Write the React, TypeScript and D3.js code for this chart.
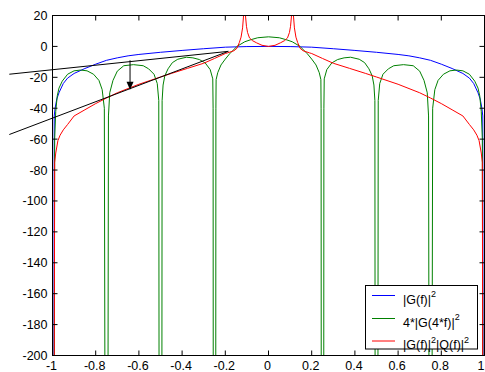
import React from 'react';
import * as d3 from 'd3';

const W = 485;
const H = 372;

// axis ticks
const xTicks = [-1, -0.8, -0.6, -0.4, -0.2, 0, 0.2, 0.4, 0.6, 0.8, 1];
const xTickLabels = ['-1', '-0.8', '-0.6', '-0.4', '-0.2', '0', '0.2', '0.4', '0.6', '0.8', '1'];
const yTicks = [20, 0, -20, -40, -60, -80, -100, -120, -140, -160, -180, -200];
const yTickLabels = ['20', '0', '-20', '-40', '-60', '-80', '-100', '-120', '-140', '-160', '-180', '-200'];

// |G(f)|^2 (symmetric, positive half)
const blueF = [0, 0.1, 0.2, 0.3, 0.4, 0.5, 0.6, 0.65, 0.7, 0.75, 0.8, 0.85, 0.9, 0.93, 0.95, 0.97, 0.98, 0.988, 0.992, 0.994];
const blueDb = [0, -0.1, -0.5, -1.5, -2.6, -3.8, -5.2, -6.1, -7.4, -9, -11.5, -14.3, -17.5, -20.5, -24, -30, -34, -40, -45, -300];

// |G(f)|^2|Q(f)|^2 (symmetric, positive half)
const redF = [0, 0.03, 0.055, 0.075, 0.088, 0.097, 0.102, 0.106, 0.111, 0.116, 0.12, 0.127, 0.135, 0.146, 0.16, 0.19, 0.2, 0.25, 0.3, 0.375, 0.45, 0.5, 0.6, 0.7, 0.75, 0.8, 0.85, 0.9, 0.93, 0.95, 0.965, 0.975, 0.985, 0.99, 0.993];
const redDb = [0, 0.7, 2.3, 3.8, 5.5, 9, 13, 19, 30, 19, 12, 6, 2.5, -1.2, -2.8, -4.2, -4.6, -7.8, -10.9, -14.2, -17.5, -19.8, -24.5, -30, -33.4, -37, -41, -45, -50.5, -54, -57.5, -61, -69, -75, -300];

// 4*|G(4*f)|^2 (symmetric, positive half)
const greenF = [
  0, 0.05, 0.085, 0.11, 0.146, 0.18, 0.2, 0.22, 0.235, 0.2425, 0.2435, 0.2445,
  0.2555, 0.2565, 0.258, 0.27, 0.293, 0.32, 0.35, 0.38, 0.42, 0.445, 0.465, 0.48, 0.488, 0.4925, 0.494,
  0.506, 0.508, 0.515, 0.53, 0.555, 0.58, 0.625, 0.67, 0.7, 0.72, 0.735, 0.741, 0.744,
  0.756, 0.76, 0.77, 0.785, 0.81, 0.84, 0.87, 0.9, 0.93, 0.955, 0.97, 0.978, 0.985, 0.99, 0.993,
];
const greenDb = [
  6.2, 5.6, 4.2, 3, 0, -4.8, -8.2, -12, -17, -21.5, -40, -300,
  -300, -40, -21, -15, -10.7, -8.5, -7.4, -7, -8.3, -10.5, -14.5, -19, -25, -35, -300,
  -300, -35, -24, -18, -14.5, -12.5, -11.8, -12.5, -16, -22, -30, -45, -300,
  -300, -40, -28, -22, -18, -15.8, -15.3, -15.8, -18, -22.5, -27, -32, -42, -60, -300,
];

// tangent lines and arrow annotation
const tangentF = [-1.2, -0.186];
const tangent1Db = [-18, -3.2];
const tangent2Db = [-57, -3.2];
const arrowF = -0.641;
const arrowTopDb = -9;
const arrowTipDb = -28;

// legend
const legendColors = ['#0000ff', '#008000', '#ff0000'];
const legendParts: string[][][] = [
  [['|G(f)|', '2']],
  [['4*|G(4*f)|', '2']],
  [['|G(f)|', '2'], ['|Q(f)|', '2']],
];

function mirror(f: number[], v: number[]): [number, number][] {
  const left: [number, number][] = f.map((x, i) => [-x, v[i]] as [number, number]).reverse();
  const right: [number, number][] = f.map((x, i) => [x, v[i]] as [number, number]);
  return [...left, ...right];
}

export default function App() {
  const left = 52.5, right = 484.5, top = 15.5, bottom = 355.5;
  const x = d3.scaleLinear().domain([-1, 1]).range([left, right]);
  const y = d3.scaleLinear().domain([-200, 20]).range([bottom, top]);
  const line = d3.line<[number, number]>().x(d => x(d[0])).y(d => y(d[1]));

  const blue = mirror(blueF, blueDb);
  const red = mirror(redF, redDb);
  const green = mirror(greenF, greenDb);

  const font = '"Liberation Sans", Arial, Helvetica, sans-serif';
  const fs = 12.5;
  const sup = 9;
  const tick = 5;

  const ax = x(arrowF);
  const tipY = y(arrowTipDb);

  const legX = 365.5, legY = 285.5, legW = 112, legH = 63.5;
  const rowY = [295.5, 318.5, 341];

  return (
    <svg width={W} height={H} style={{ position: 'absolute', left: 0, top: 0, background: '#fff' }} fontFamily={font}>
      <defs>
        <clipPath id="plotclip">
          <rect x={left} y={top} width={right - left} height={bottom - top} />
        </clipPath>
      </defs>
      <rect x={0} y={0} width={W} height={H} fill="#fff" />
      <g clipPath="url(#plotclip)" fill="none" strokeWidth={1} strokeLinejoin="round">
        <path d={line(blue) || ''} stroke="#0000ff" />
        <path d={line(green) || ''} stroke="#008000" />
        <path d={line(red) || ''} stroke="#ff0000" />
      </g>
      {/* tangent lines, not clipped */}
      <path d={line([[tangentF[0], tangent1Db[0]], [tangentF[1], tangent1Db[1]]]) || ''} stroke="#000" fill="none" strokeWidth={1} />
      <path d={line([[tangentF[0], tangent2Db[0]], [tangentF[1], tangent2Db[1]]]) || ''} stroke="#000" fill="none" strokeWidth={1} />
      {/* arrow */}
      <line x1={ax} x2={ax} y1={y(arrowTopDb)} y2={tipY - 7} stroke="#000" strokeWidth={1} />
      <polygon points={`${ax - 3.5},${tipY - 8} ${ax + 3.5},${tipY - 8} ${ax},${tipY}`} fill="#000" />
      {/* axes box */}
      <rect x={left} y={top} width={right - left} height={bottom - top} fill="none" stroke="#000" strokeWidth={1} />
      {/* x ticks */}
      {xTicks.map((t, i) => (
        <g key={'xt' + i}>
          <line x1={x(t)} x2={x(t)} y1={bottom} y2={bottom - tick} stroke="#000" />
          <line x1={x(t)} x2={x(t)} y1={top} y2={top + tick} stroke="#000" />
          <text x={Math.min(x(t) - 1, W - 4)} y={369.5} fontSize={fs} textAnchor="middle" fill="#000">{xTickLabels[i]}</text>
        </g>
      ))}
      {/* y ticks */}
      {yTicks.map((t, i) => (
        <g key={'yt' + i}>
          <line x1={left} x2={left + tick} y1={y(t)} y2={y(t)} stroke="#000" />
          <line x1={right} x2={right - tick} y1={y(t)} y2={y(t)} stroke="#000" />
          <text x={47.5} y={y(t)} dy="0.36em" fontSize={fs} textAnchor="end" fill="#000">{yTickLabels[i]}</text>
        </g>
      ))}
      {/* legend */}
      <rect x={legX} y={legY} width={legW} height={legH} fill="#fff" stroke="#000" strokeWidth={1} />
      {legendParts.map((parts, i) => (
        <g key={'lg' + i}>
          <line x1={372} x2={395} y1={rowY[i]} y2={rowY[i]} stroke={legendColors[i]} strokeWidth={1} />
          <text x={403} y={rowY[i] + 8} fontSize={fs} fill="#000">
            {parts.flatMap((p, j) => [
              <tspan key={'b' + j} fontSize={fs} dy={j === 0 ? 0 : 6.5}>{p[0]}</tspan>,
              <tspan key={'s' + j} fontSize={sup} dy={-6.5}>{p[1]}</tspan>,
            ])}
          </text>
        </g>
      ))}
    </svg>
  );
}
